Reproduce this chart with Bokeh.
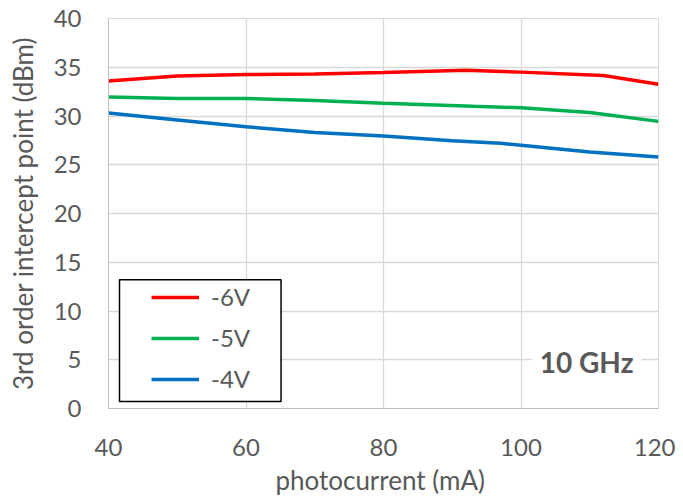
from bokeh.plotting import figure
from bokeh.models import Legend, LegendItem, Label, BoxAnnotation, Range1d, FixedTicker
from bokeh.embed import file_html
from bokeh.resources import INLINE

# photocurrent (mA) and third-order intercept point (dBm) at 10 GHz
x_6v = [40, 50, 60, 70, 80, 92, 100, 112, 120]
y_6v = [33.6, 34.1, 34.25, 34.3, 34.45, 34.7, 34.5, 34.15, 33.25]
x_5v = [40, 50, 60, 70, 80, 93, 100, 110, 120]
y_5v = [31.95, 31.8, 31.8, 31.6, 31.3, 31.0, 30.85, 30.35, 29.45]
x_4v = [40, 50, 60, 70, 80, 90, 97, 100, 110, 120]
y_4v = [30.3, 29.6, 28.9, 28.3, 27.95, 27.45, 27.2, 27.0, 26.3, 25.8]
x_ticks = [40, 60, 80, 100, 120]
y_ticks = [0, 5, 10, 15, 20, 25, 30, 35, 40]

FONT = "Lato"
TXT = "#595959"
GRID = "#d9d9d9"

p = figure(width=675, height=499, output_backend="svg", toolbar_location=None,
           x_range=Range1d(40, 120), y_range=Range1d(0, 40),
           min_border_left=108, min_border_right=17, min_border_top=18,
           min_border_bottom=91)

p.outline_line_color = GRID
p.background_fill_color = "white"
p.border_fill_color = "white"

for ax in (p.xaxis[0], p.yaxis[0]):
    ax.axis_line_color = "#bfbfbf"
    ax.axis_line_width = 1
    ax.major_tick_line_color = None
    ax.minor_tick_line_color = None
    ax.major_label_text_font = FONT
    ax.major_label_text_font_size = "24px"
    ax.major_label_text_color = TXT
    ax.axis_label_text_font = FONT
    ax.axis_label_text_font_size = "26px"
    ax.axis_label_text_color = TXT
    ax.axis_label_text_font_style = "normal"

p.xaxis.ticker = FixedTicker(ticks=x_ticks)
p.yaxis.ticker = FixedTicker(ticks=y_ticks)
p.xaxis.axis_label = "photocurrent  (mA)"
p.yaxis.axis_label = "3rd order intercept point (dBm)"
p.xaxis.major_label_standoff = 24
p.yaxis.major_label_standoff = 21
p.xaxis.axis_label_standoff = 5
p.yaxis.axis_label_standoff = 12

p.xgrid.ticker = FixedTicker(ticks=x_ticks)
p.ygrid.ticker = FixedTicker(ticks=y_ticks)
p.xgrid.grid_line_color = GRID
p.ygrid.grid_line_color = GRID
p.xgrid.grid_line_width = 1.3
p.ygrid.grid_line_width = 1.3

r6 = p.line(x_6v, y_6v, line_color="#ff0000", line_width=3.5)
r5 = p.line(x_5v, y_5v, line_color="#00b050", line_width=3.5)
r4 = p.line(x_4v, y_4v, line_color="#0070c0", line_width=3.5)

box = BoxAnnotation(left=41.6, right=65.1, bottom=0.72, top=13.2,
                    fill_color="white", fill_alpha=1.0,
                    line_color="black", line_alpha=1.0, line_width=1.5)
p.add_layout(box)

legend = Legend(items=[LegendItem(label="-6V", renderers=[r6]),
                       LegendItem(label="-5V", renderers=[r5]),
                       LegendItem(label="-4V", renderers=[r4])],
                location=(43, 15), padding=0, margin=0,
                border_line_color=None, background_fill_alpha=0,
                glyph_width=48, glyph_height=28, label_height=28,
                label_standoff=12, spacing=12,
                label_text_font=FONT, label_text_font_size="24px",
                label_text_color=TXT)
p.add_layout(legend)

lab = Label(x=120, y=4.75, text="10 GHz", text_align="right", text_baseline="middle",
            x_offset=-17, text_font=FONT, text_font_size="28px",
            text_font_style="bold", text_color=TXT,
            background_fill_color="white", padding=8)
p.add_layout(lab)

open("out.html", "w").write(file_html(p, INLINE))
